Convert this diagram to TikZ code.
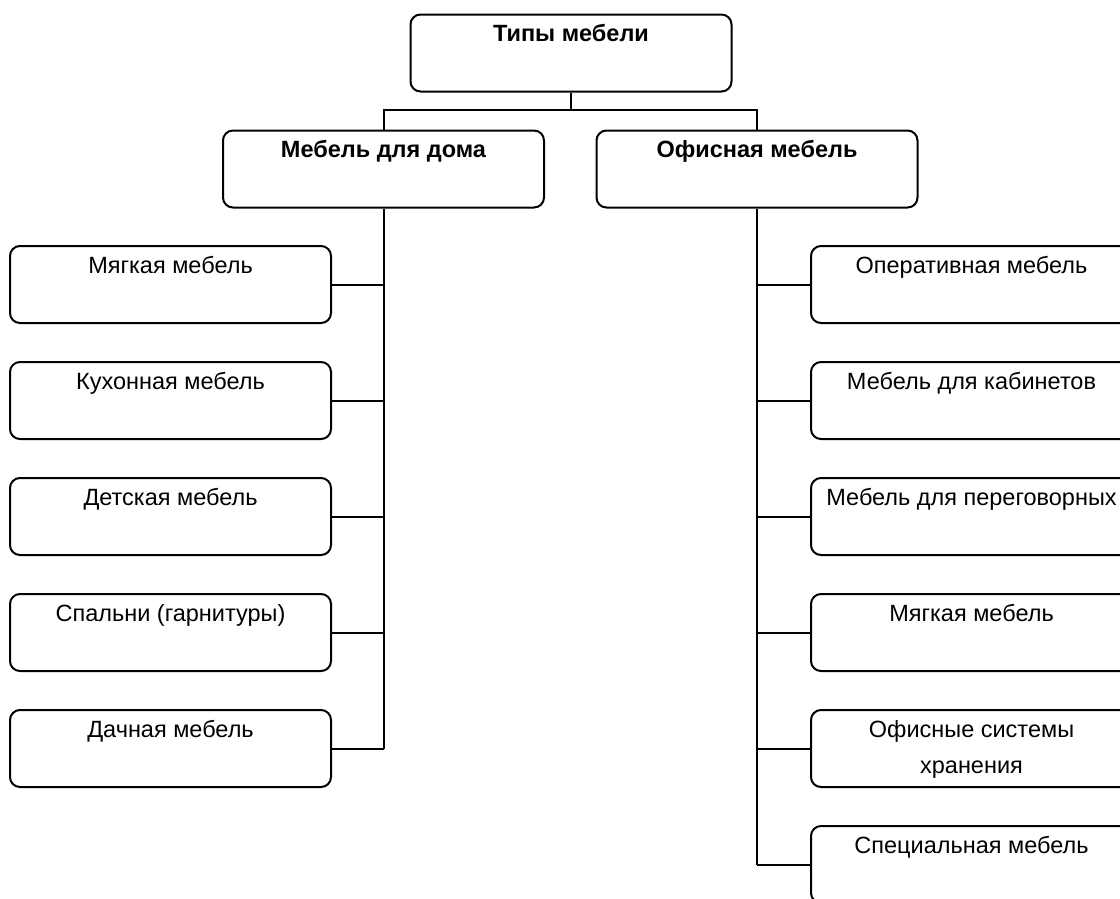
\documentclass[tikz,border=0pt]{standalone}
\usepackage{fontspec}
\setmainfont{Liberation Sans}
\begin{document}
\begin{tikzpicture}[x=1pt,y=-1pt,
  caja/.style={draw,line width=2pt,rounded corners=10pt,minimum width=321pt,minimum height=77pt,inner sep=0pt,text height=27pt,text depth=50pt,font=\fontsize{23.5pt}{36pt}\selectfont},
  cajab/.style={caja,font=\fontsize{23.5pt}{36pt}\selectfont\bfseries},
  linea/.style={line width=2pt}]
\def\pasoY{116};%Paso vertical entre bloques
\def\primY{284.5};%Centro del primer bloque
\def\colI{170.5};%Columna izquierda
\def\colD{971.5};%Columna derecha

%Marco
\useasboundingbox (0,0) rectangle (1120,898);
\clip (0,0) rectangle (1120,898);

%Bloques superiores
\node[cajab] (tipos) at (571,53) {Типы мебели};
\node[cajab] (doma) at (383.5,169) {Мебель для дома};
\node[cajab] (ofis) at (757,169) {Офисная мебель};
\coordinate (nudo) at (571,110);
\draw[linea] (tipos.south) -- (nudo) -| (doma.north);
\draw[linea] (nudo) -| (ofis.north);

%Mебель для дома
\foreach \t [count=\i] in {Мягкая мебель,Кухонная мебель,Детская мебель,Спальни (гарнитуры),Дачная мебель}{
    \node[caja] (d\i) at (\colI,{\primY+\pasoY*(\i-1)}) {\t};
    \draw[linea] (d\i.east) -- (d\i.east -| doma.south);
}
\draw[linea] (doma.south) -- (d5.east -| doma.south);

%Офисная мебель
\foreach \t [count=\i] in {Оперативная мебель,Мебель для кабинетов,Мебель для переговорных,Мягкая мебель,{\begin{tabular}[t]{@{}c@{}}Офисные системы\\хранения\end{tabular}},Специальная мебель}{
    \node[caja] (o\i) at (\colD,{\primY+\pasoY*(\i-1)}) {\t};
    \draw[linea] (o\i.west) -- (o\i.west -| ofis.south);
}
\draw[linea] (ofis.south) -- (o6.west -| ofis.south);
\end{tikzpicture}
\end{document}
